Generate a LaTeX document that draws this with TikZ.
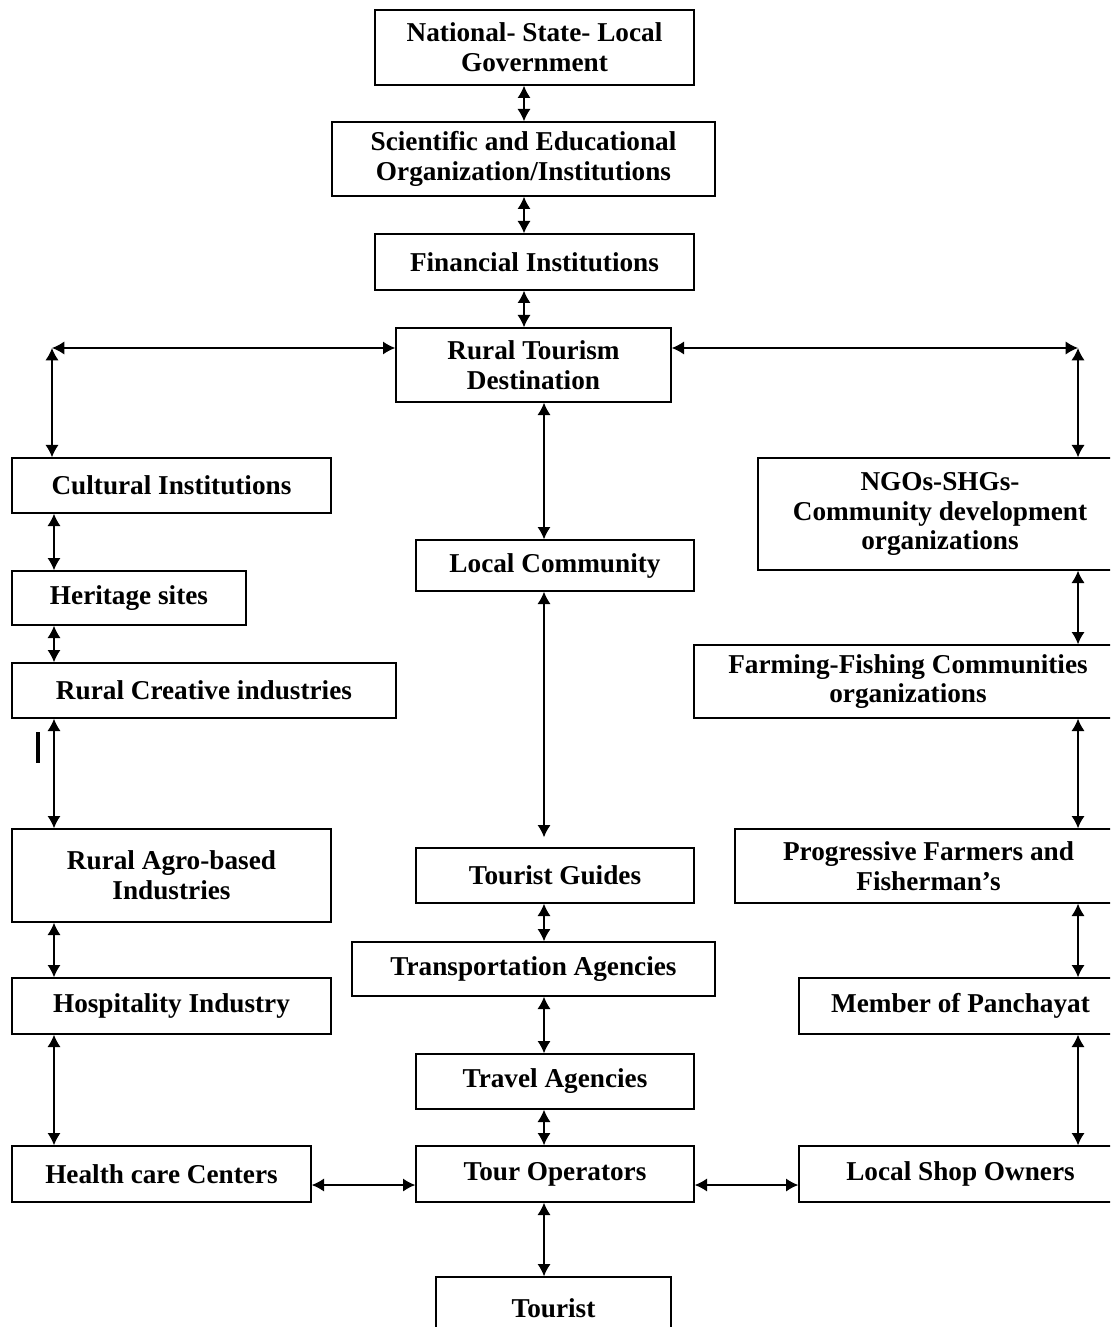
\documentclass[tikz,border=0pt]{standalone}
\usepackage{fontspec}
\setmainfont{Liberation Serif}
\usetikzlibrary{arrows.meta,calc}

\tikzset{
  box/.style={draw, line width=0.8pt, align=center, inner sep=0pt,
    font=\fontsize{15.5}{17}\selectfont\bfseries},
  size/.style 2 args={minimum width=#1*0.02cm, minimum height=#2*0.02cm},
  link/.style={{Latex[length=7pt,width=7.5pt]}-{Latex[length=7pt,width=7.5pt]}, line width=0.8pt}
}

\begin{document}
\begin{tikzpicture}[x=0.02cm, y=-0.02cm]
		\useasboundingbox (0,0) rectangle (1110,1327);
		\clip (0,0) rectangle (1110,1327);

		% centre column
		\node[box, size={319}{75}] (gov) at (534.5,47.5) {National- State- Local\\Government};
		\node[box, size={383}{74}] (sci) at (523.5,159) {Scientific and Educational\\Organization/Institutions};
		\node[box, size={319}{56}] (fin) at (534.5,262) {Financial Institutions};
		\node[box, size={275}{74}] (rtd) at (533.5,365) {Rural Tourism\\Destination};
		\node[box, size={278}{51}] (lcom) at (555,565.5) {Local Community};
		\node[box, size={278}{55}] (guide) at (555,875.5) {Tourist Guides};
		\node[box, size={363}{54}] (trans) at (533.5,969) {Transportation Agencies};
		\node[box, size={278}{55}] (travel) at (555,1081.5) {Travel Agencies};
		\node[box, size={278}{56}] (tour) at (555,1174) {Tour Operators};
		\node[box, size={235}{63}] (tourist) at (553.5,1308.5) {Tourist};

		% left column
		\node[box, size={319}{55}] (cult) at (171.5,485.5) {Cultural Institutions};
		\node[box, size={234}{54}] (herit) at (129,598) {Heritage sites};
		\node[box, size={384}{55}] (creat) at (204,690.5) {Rural Creative industries};
		\node[box, size={319}{93}] (agro) at (171.5,875.5) {Rural Agro-based\\Industries};
		\node[box, size={319}{56}] (hosp) at (171.5,1006) {Hospitality Industry};
		\node[box, size={299}{56}] (health) at (161.5,1174) {Health care Centers};

		% right column
		\node[box, size={364}{112}] (ngo) at (940,514) {NGOs-SHGs-\\Community development\\organizations};
		\node[box, size={428}{73}] (farm) at (908,681.5) {Farming-Fishing Communities\\organizations};
		\node[box, size={387}{74}] (prog) at (928.5,866) {Progressive Farmers and\\Fisherman's};
		\node[box, size={323}{56}] (panch) at (960.5,1006) {Member of Panchayat};
		\node[box, size={323}{56}] (shop) at (960.5,1174) {Local Shop Owners};

		% column lines
		\coordinate (topx) at (524,0);
		\coordinate (midx) at (544,0);
		\coordinate (leftx) at (54,0);
		\coordinate (rightx) at (1078,0);
		\coordinate (lc) at (52,348);
		\coordinate (rc) at (1078,348);
		\coordinate (by) at (0,1185);

		\draw[link] (topx |- gov.south) -- (topx |- sci.north);
		\draw[link] (topx |- sci.south) -- (topx |- fin.north);
		\draw[link] (topx |- fin.south) -- (topx |- rtd.north);

		\draw[link] (lc) -- (lc -| rtd.west);
		\draw[link] (rc -| rtd.east) -- (rc);
		\draw[link] (lc) -- (lc |- cult.north);
		\draw[link] (rc) -- (rc |- ngo.north);

		\draw[link] (midx |- rtd.south) -- (midx |- lcom.north);
		\draw[link, shorten >=0.2cm] (midx |- lcom.south) -- (midx |- guide.north);
		\draw[link] (midx |- guide.south) -- (midx |- trans.north);
		\draw[link] (midx |- trans.south) -- (midx |- travel.north);
		\draw[link] (midx |- travel.south) -- (midx |- tour.north);
		\draw[link] (midx |- tour.south) -- (midx |- tourist.north);

		\draw[link] (leftx |- cult.south) -- (leftx |- herit.north);
		\draw[link] (leftx |- herit.south) -- (leftx |- creat.north);
		\draw[link] (leftx |- creat.south) -- (leftx |- agro.north);
		\draw[link] (leftx |- agro.south) -- (leftx |- hosp.north);
		\draw[link] (leftx |- hosp.south) -- (leftx |- health.north);

		\draw[link] (rightx |- ngo.south) -- (rightx |- farm.north);
		\draw[link] (rightx |- farm.south) -- (rightx |- prog.north);
		\draw[link] (rightx |- prog.south) -- (rightx |- panch.north);
		\draw[link] (rightx |- panch.south) -- (rightx |- shop.north);

		\draw[link] (health.east |- by) -- (tour.west |- by);
		\draw[link] (tour.east |- by) -- (shop.west |- by);

		% stray mark
		\draw[line width=2.2pt] (38,732) -- (38,763);
\end{tikzpicture}
\end{document}
